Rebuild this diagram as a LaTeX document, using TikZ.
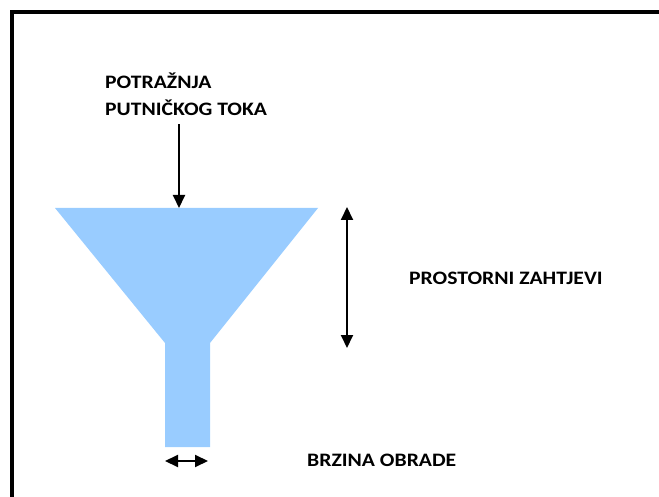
\documentclass[tikz,border=0pt]{standalone}
\usepackage{fontspec}
\setmainfont{Carlito}[FakeStretch=1.14]
\usetikzlibrary{arrows.meta}
\definecolor{lijevak}{RGB}{153,204,255}
\tikzset{
  natpis/.style={inner sep=0pt,font=\fontsize{19}{27}\selectfont\bfseries},
  strelica/.style={line width=2pt,-{Triangle[length=13pt,width=12pt]}},
  dvostrelica/.style={line width=2pt,{Triangle[length=13pt,width=12pt]}-{Triangle[length=13pt,width=12pt]}}
}
\begin{document}
\begin{tikzpicture}[x=1pt,y=-1pt]
            \useasboundingbox (0,0) rectangle (659,497);
            \draw[line width=4pt] (12,497) -- (12,12) -- (659,12);
            \fill[lijevak] (55,208) -- (318,208) -- (210,343) -- (210,447) -- (165,447) -- (165,343) -- cycle;

            \node[natpis,anchor=north west,align=left] (A) at (105,73) {POTRAŽNJA\\ PUTNIČKOG TOKA};
            \node[natpis,anchor=base west] (B) at (409,285) {PROSTORNI ZAHTJEVI};
            \node[natpis,anchor=base west] (C) at (307,466) {BRZINA OBRADE};
            \coordinate (D) at (179,208);
            \coordinate (E1) at (347,207);
            \coordinate (E2) at (347,348);
            \coordinate (G1) at (165,461);
            \coordinate (G2) at (208,461);

            \draw[strelica] (D |- A.south) ++(0,8) to (D);
            \draw[dvostrelica] (E1) to (E2);
            \draw[dvostrelica] (G1) to (G2);
        \end{tikzpicture}
\end{document}
